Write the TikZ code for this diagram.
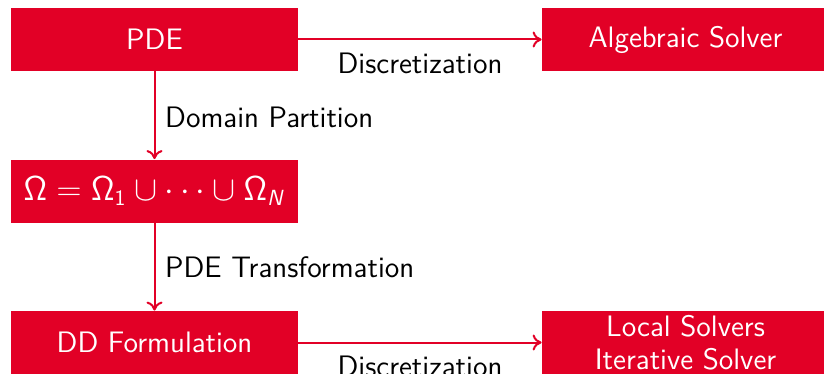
\documentclass[tikz,border=0pt]{standalone}
\usetikzlibrary{arrows.meta}
\renewcommand{\familydefault}{\sfdefault}
\DeclareMathAlphabet{\mathsfsl}{OT1}{cmss}{m}{sl}
\definecolor{ured}{RGB}{226,0,38}
\begin{document}
\begin{tikzpicture}[x=0.5pt,y=-0.5pt,
  box/.style={fill=ured, text=white, minimum width=143.5pt, minimum height=31.5pt,
    inner sep=0pt, align=center, font=\fontsize{14.8}{16.5}\selectfont},
  conn/.style={draw=ured, line width=1pt, -{To[length=4.5pt,width=8pt]}},
  lab/.style={text=black, font=\fontsize{14.8}{16.5}\selectfont}]
\useasboundingbox (0,0) rectangle (824,374);
\clip (0,0) rectangle (824,374);
\node[box] (pde) at (154.5,39.5) {PDE};
\node[box] (alg) at (685.5,39.5) {Algebraic Solver};
\node[box, font=\fontsize{16}{18}\selectfont] (omega) at (154.5,191) {$\mathsf{\Omega} = \mathsf{\Omega}_{\mathsf{1}} \cup \cdots \cup \mathsf{\Omega}_{\mathsfsl{N}}$};
\node[box] (dd) at (154.5,342.5) {DD Formulation};
\node[box] (loc) at (685.5,342.5) {Local Solvers\\Iterative Solver};
\draw[conn] (pde) -- node[lab, below, yshift=-3pt]{Discretization} (alg);
\draw[conn] (pde) -- node[lab, right, xshift=1.5pt, yshift=-1pt]{Domain Partition} (omega);
\draw[conn] (omega) -- node[lab, right, xshift=1.5pt]{PDE Transformation} (dd);
\draw[conn] (dd) -- node[lab, below, yshift=-3pt]{Discretization} (loc);
\end{tikzpicture}
\end{document}
